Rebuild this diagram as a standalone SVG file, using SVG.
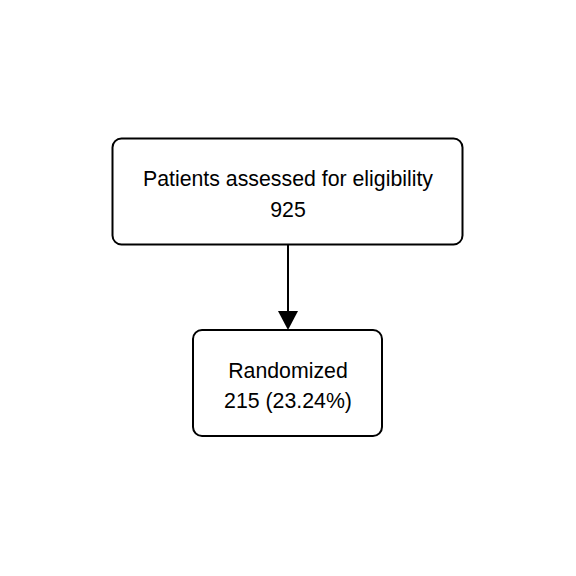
<svg xmlns="http://www.w3.org/2000/svg" width="576" height="576" viewBox="0 0 576 576">
<style>
.box{fill:#fff;stroke:#000;stroke-width:2}
.t{font-family:"Liberation Sans",Arial,sans-serif;font-size:21.3px;fill:#000;text-anchor:middle}
.edge{stroke:#000;stroke-width:2;fill:none}
</style>
<rect width="576" height="576" fill="#fff"/>
<g id="connectors">
<line class="edge" x1="288" y1="245" x2="288" y2="312"/>
<polygon points="278,311 298,311 288,330" fill="#000"/>
</g>
<g id="node1">
<rect class="box" x="112.5" y="138.5" width="350" height="106" rx="9"/>
<text class="t" x="288" y="186">Patients assessed for eligibility</text>
<text class="t" x="288" y="217">925</text>
</g>
<g id="node2">
<rect class="box" x="193" y="330" width="189" height="106" rx="9"/>
<text class="t" x="288" y="378">Randomized</text>
<text class="t" x="288" y="408">215 (23.24%)</text>
</g>
</svg>
